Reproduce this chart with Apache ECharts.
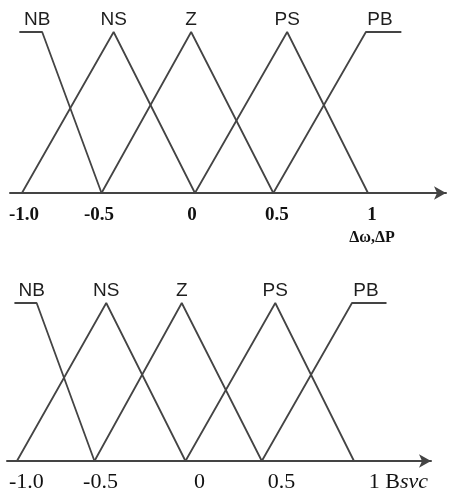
<!DOCTYPE html>
<html>
<head>
<meta charset="utf-8">
<script src="https://cdn.jsdelivr.net/npm/echarts@6/dist/echarts.min.js"></script>
<style>
  html, body { margin: 0; padding: 0; background: #fff; }
  #chart { width: 451px; height: 496px; }
</style>
</head>
<body>
<div id="chart"></div>
<script>
// membership functions, [x, degree] vertices
var setNames = ['NB', 'NS', 'Z', 'PS', 'PB'];
var NB = [[-1.015, 1], [-0.883, 1], [-0.54, 0]];
var NS = [[-1.0, 0], [-0.47, 1], [0.0, 0]];
var Z  = [[-0.54, 0], [-0.022, 1], [0.453, 0]];
var PS = [[0.0, 0], [0.533, 1], [1.0, 0]];
var PB = [[0.453, 0], [0.988, 1], [1.193, 1]];
var sets = [NB, NS, Z, PS, PB];

// tick labels (where they sit on each axis)
var tickText = ['-1.0', '-0.5', '0', '0.5', '1'];
var tickTop = [-0.988, -0.555, -0.017, 0.474, 1.023];
var tickBottom = [-0.944, -0.504, 0.083, 0.570, 1.264];

var chart = echarts.init(document.getElementById('chart'));

var lineColor = '#444';

function findTick(list, v) {
  for (var i = 0; i < list.length; i++) {
    if (Math.abs(list[i] - v) < 1e-6) return i;
  }
  return -1;
}

var series = [];
[0, 1].forEach(function (g) {
  sets.forEach(function (pts, k) {
    var off = 0;
    if (k === 0) off = -5;
    if (k === 4) off = 14;
    series.push({
      type: 'line',
      name: setNames[k] + g,
      xAxisIndex: g,
      yAxisIndex: g,
      symbol: 'circle',
      symbolSize: 0,
      showSymbol: true,
      silent: true,
      animation: false,
      lineStyle: { color: lineColor, width: 1.8 },
      data: pts.map(function (p, i) {
        var item = { value: p };
        if (i === 1) {
          item.label = {
            show: true,
            position: 'top',
            distance: 3,
            offset: [off, 0],
            formatter: setNames[k],
            fontFamily: 'Liberation Sans',
            fontSize: 19,
            color: '#1e1e1e'
          };
        }
        return item;
      })
    });
  });
});

var option = {
  backgroundColor: '#fff',
  grid: [
    { left: 10, right: 5, top: 32, height: 161 },
    { left: 7, right: 20, top: 303, height: 158 }
  ],
  xAxis: [
    {
      type: 'value', gridIndex: 0, min: -1.069, max: 1.451,
      splitLine: { show: false },
      axisTick: { show: false },
      axisLine: { onZero: false, symbol: ['none', 'arrow'], symbolSize: [10, 12],
        lineStyle: { color: '#444', width: 2 } },
      axisLabel: {
        customValues: tickTop,
        margin: 11,
        fontFamily: 'Liberation Serif',
        fontWeight: 'bold',
        fontSize: 19,
        lineHeight: 22,
        color: '#111',
        formatter: function (v) {
          var i = findTick(tickTop, v);
          if (i === 4) return '{a|' + tickText[i] + '}\n{n|Δω,ΔP}';
          return i >= 0 ? tickText[i] : '';
        },
        rich: {
          a: { fontFamily: 'Liberation Serif', fontWeight: 'bold', fontSize: 19, lineHeight: 22, color: '#111' },
          n: { fontFamily: 'Liberation Serif', fontWeight: 'bold', fontSize: 16, lineHeight: 24, color: '#111' }
        }
      }
    },
    {
      type: 'value', gridIndex: 1, min: -1.059, max: 1.457,
      splitLine: { show: false },
      axisTick: { show: false },
      axisLine: { onZero: false, symbol: ['none', 'arrow'], symbolSize: [10, 12],
        lineStyle: { color: '#444', width: 2 } },
      axisLabel: {
        customValues: tickBottom,
        margin: 9,
        fontFamily: 'Liberation Serif',
        fontSize: 22,
        lineHeight: 24,
        color: '#111',
        formatter: function (v) {
          var i = findTick(tickBottom, v);
          if (i === 4) return tickText[i] + ' B{i|svc}';
          return i >= 0 ? tickText[i] : '';
        },
        rich: {
          i: { fontFamily: 'Liberation Serif', fontStyle: 'italic', fontSize: 22, lineHeight: 24, color: '#111' }
        }
      }
    }
  ],
  yAxis: [
    { type: 'value', gridIndex: 0, min: 0, max: 1, show: false },
    { type: 'value', gridIndex: 1, min: 0, max: 1, show: false }
  ],
  series: series
};

chart.setOption(option);
</script>
</body>
</html>
